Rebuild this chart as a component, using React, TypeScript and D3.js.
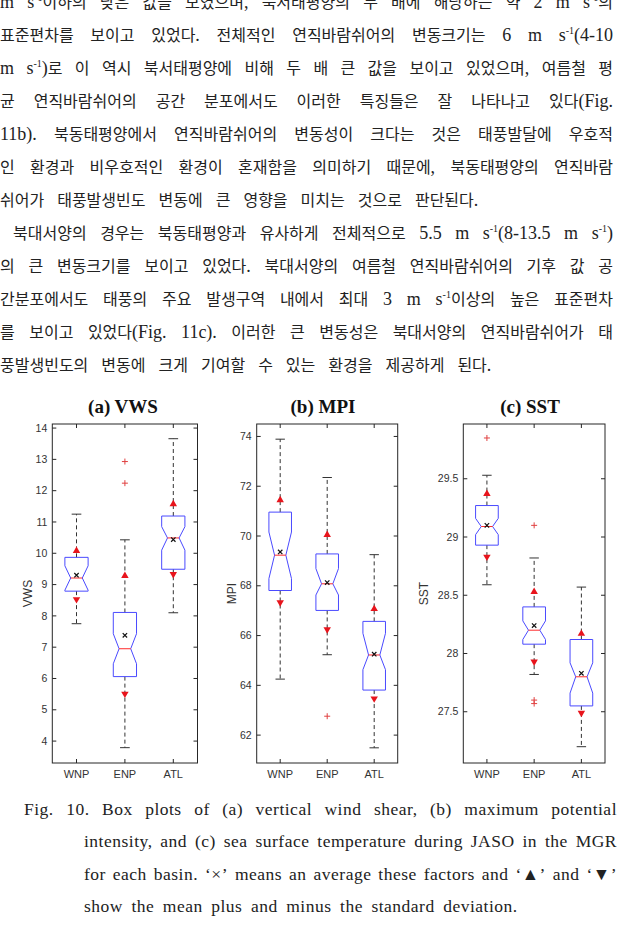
import { useLayoutEffect, useRef, useState } from "react";
import * as d3 from "d3";

const W = 622;
const H = 933;

const basins = ["WNP", "ENP", "ATL"];
const panelTitles = ["(a) VWS", "(b) MPI", "(c) SST"];
const yLabels = ["VWS", "MPI", "SST"];

// box stats: [lower whisker, q1, notch low, median, notch high, q3, upper whisker]
const vwsBoxes = [
  [7.75, 8.79, 8.82, 9.21, 9.6, 9.87, 11.25],
  [3.79, 6.06, 6.47, 6.95, 7.43, 8.11, 10.43],
  [8.1, 9.49, 10.1, 10.49, 10.85, 11.19, 13.66],
];
const vwsMean = [9.3, 7.38, 10.44];
const vwsPlusSd = [10.08, 9.28, 11.57];
const vwsMinusSd = [8.53, 5.51, 9.33];
const vwsOutliers = [[], [12.24, 12.93], []];
const vwsTicks = [4, 5, 6, 7, 8, 9, 10, 11, 12, 13, 14];
const vwsDomain = [3.3, 14.13];

const mpiBoxes = [
  [64.25, 67.81, 68.29, 69.23, 70.16, 70.96, 73.89],
  [65.23, 67.01, 67.63, 68.08, 68.69, 69.28, 72.35],
  [61.49, 63.81, 64.63, 65.22, 66.09, 66.57, 69.25],
];
const mpiMean = [69.36, 68.13, 65.25];
const mpiPlusSd = [71.44, 70.05, 67.07];
const mpiMinusSd = [67.33, 66.25, 63.47];
const mpiOutliers = [[], [62.76], []];
const mpiTicks = [62, 64, 66, 68, 70, 72, 74];
const mpiDomain = [60.88, 74.5];

const sstBoxes = [
  [28.59, 28.93, 29.02, 29.09, 29.16, 29.27, 29.53],
  [27.82, 28.08, 28.12, 28.2, 28.28, 28.4, 28.82],
  [27.2, 27.55, 27.66, 27.8, 27.92, 28.12, 28.57],
];
const sstMean = [29.1, 28.24, 27.83];
const sstPlusSd = [29.37, 28.53, 28.17];
const sstMinusSd = [28.83, 27.93, 27.49];
const sstOutliers = [[29.85], [29.1, 27.6, 27.57], []];
const sstTicks = [27.5, 28, 28.5, 29, 29.5];
const sstDomain = [27.06, 29.97];

// body text; {..} marks a superscript
const paragraph1 = [
  "m s{-1}이하의 낮은 값을 보였으며, 북서태평양의 두 배에 해당하는 약 2 m s{-1}의",
  "표준편차를 보이고 있었다. 전체적인 연직바람쉬어의 변동크기는 6 m s{-1}(4-10",
  "m s{-1})로 이 역시 북서태평양에 비해 두 배 큰 값을 보이고 있었으며, 여름철 평",
  "균 연직바람쉬어의 공간 분포에서도 이러한 특징들은 잘 나타나고 있다(Fig.",
  "11b). 북동태평양에서 연직바람쉬어의 변동성이 크다는 것은 태풍발달에 우호적",
  "인 환경과 비우호적인 환경이 혼재함을 의미하기 때문에, 북동태평양의 연직바람",
  "쉬어가 태풍발생빈도 변동에 큰 영향을 미치는 것으로 판단된다.",
];
const paragraph2 = [
  "북대서양의 경우는 북동태평양과 유사하게 전체적으로 5.5 m s{-1}(8-13.5 m s{-1})",
  "의 큰 변동크기를 보이고 있었다. 북대서양의 여름철 연직바람쉬어의 기후 값 공",
  "간분포에서도 태풍의 주요 발생구역 내에서 최대 3 m s{-1}이상의 높은 표준편차",
  "를 보이고 있었다(Fig. 11c). 이러한 큰 변동성은 북대서양의 연직바람쉬어가 태",
  "풍발생빈도의 변동에 크게 기여할 수 있는 환경을 제공하게 된다.",
];
const captionLines = [
  "Fig. 10. Box plots of (a) vertical wind shear, (b) maximum potential",
  "intensity, and (c) sea surface temperature during JASO in the MGR",
  "for each basin. ‘×’ means an average these factors and ‘▲’ and ‘▼’",
  "show the mean plus and minus the standard deviation.",
];

const BODY_FONT = "'Liberation Serif', 'Noto Sans CJK KR', serif";
const AX_FONT = "'Liberation Sans', Arial, sans-serif";

// split a word into hangul / latin / superscript runs
function runs(word: string) {
  const out: { s: string; kind: string }[] = [];
  word.split(/\{([^}]*)\}/).forEach((p, i) => {
    if (i % 2 === 1) out.push({ s: p, kind: "sup" });
    else
      p.split(/([\uAC00-\uD7A3]+)/).forEach((q, j) => {
        if (q) out.push({ s: q, kind: j % 2 === 1 ? "ko" : "lat" });
      });
  });
  return out;
}

function wordContent(word: string, koSize: number, latSize: number) {
  let raised = false;
  return runs(word).map((r, i) => {
    const sup = r.kind === "sup";
    const dy = sup && !raised ? -7 : !sup && raised ? 7 : 0;
    raised = sup;
    return (
      <tspan key={i} dy={dy} fontSize={sup ? 10 : r.kind === "ko" ? koSize : latSize}>
        {r.s}
      </tspan>
    );
  });
}

function TextLine({ x, y, text, width, gap, fontSize, latinSize, letterSpacing = 0 }) {
  const words = text.split(" ");
  const refs = useRef<(SVGTextElement | null)[]>([]);
  const [xs, setXs] = useState<number[] | null>(null);

  useLayoutEffect(() => {
    const measure = () => {
      const ws = words.map((_, i) => {
        const el = refs.current[i];
        return el ? el.getComputedTextLength() : 0;
      });
      const total = d3.sum(ws);
      const g = width != null && words.length > 1 ? (width - total) / (words.length - 1) : gap;
      let cur = x;
      setXs(
        ws.map((w) => {
          const p = cur;
          cur += w + g;
          return p;
        })
      );
    };
    measure();
    if (document.fonts) document.fonts.ready.then(measure);
  }, [text]);

  return (
    <g fontSize={fontSize} fontFamily={BODY_FONT} fill="#222" letterSpacing={letterSpacing}>
      {words.map((w, i) => (
        <text key={i} ref={(el) => (refs.current[i] = el)} x={xs ? xs[i] : x} y={y}>
          {wordContent(w, fontSize, latinSize)}
        </text>
      ))}
    </g>
  );
}

function BoxPanel({ i, boxes, mean, plus, minus, outliers, ticks, domain }) {
  const frames = [
    [52.3, 197.5],
    [256.7, 397.7],
    [463.3, 605],
  ];
  const titleX = [123, 323, 530];
  const labelX = [28, 232, 424];
  const top = 424;
  const bottom = 763;
  const [left, right] = frames[i];

  const x = d3.scalePoint<string>().domain(basins).range([left, right]).padding(0.5);
  const y = d3.scaleLinear().domain(domain).range([bottom, top]);
  const step = x.step();
  const hw = step * 0.24;
  const nw = hw * 0.5;
  const cw = step * 0.1;
  const tri = d3.symbol(d3.symbolTriangle, 24)();
  const line = d3.line();

  return (
    <g>
      <text
        x={titleX[i]}
        y={413}
        textAnchor="middle"
        fontFamily={BODY_FONT}
        fontWeight="bold"
        fontSize={19}
        fill="#111"
      >
        {panelTitles[i]}
      </text>
      <rect x={left} y={top} width={right - left} height={bottom - top} fill="#fff" stroke="#262626" strokeWidth={1} />
      {ticks.map((t) => (
        <g key={t} stroke="#262626">
          <line x1={left} x2={left + 4} y1={y(t)} y2={y(t)} />
          <line x1={right} x2={right - 4} y1={y(t)} y2={y(t)} />
        </g>
      ))}
      {basins.map((b) => (
        <g key={b} stroke="#262626">
          <line x1={x(b)} x2={x(b)} y1={bottom} y2={bottom - 4} />
          <line x1={x(b)} x2={x(b)} y1={top} y2={top + 4} />
        </g>
      ))}
      <g fontFamily={AX_FONT} fontSize={10.5} fill="#333" textAnchor="end">
        {ticks.map((t) => (
          <text key={t} x={left - 5} y={y(t)} dy="0.35em">
            {String(t)}
          </text>
        ))}
      </g>
      <g fontFamily={AX_FONT} fontSize={11} fill="#333" textAnchor="middle">
        {basins.map((b) => (
          <text key={b} x={x(b)} y={778}>
            {b}
          </text>
        ))}
      </g>
      <text
        transform={`translate(${labelX[i]},${(top + bottom) / 2}) rotate(-90)`}
        textAnchor="middle"
        dy="0.35em"
        fontFamily={AX_FONT}
        fontSize={12}
        fill="#333"
      >
        {yLabels[i]}
      </text>
      {basins.map((b, k) => {
        const [lo, q1, nLo, med, nHi, q3, hi] = boxes[k];
        const cx = x(b);
        const pts: [number, number][] = [
          [cx - hw, y(q3)],
          [cx + hw, y(q3)],
          [cx + hw, y(nHi)],
          [cx + nw, y(med)],
          [cx + hw, y(nLo)],
          [cx + hw, y(q1)],
          [cx - hw, y(q1)],
          [cx - hw, y(nLo)],
          [cx - nw, y(med)],
          [cx - hw, y(nHi)],
        ];
        const s = 2.2;
        return (
          <g key={b}>
            <g stroke="#333" strokeWidth={1}>
              <line x1={cx} x2={cx} y1={y(q3)} y2={y(hi)} strokeDasharray="4,3" />
              <line x1={cx} x2={cx} y1={y(q1)} y2={y(lo)} strokeDasharray="4,3" />
              <line x1={cx - cw} x2={cx + cw} y1={y(hi)} y2={y(hi)} />
              <line x1={cx - cw} x2={cx + cw} y1={y(lo)} y2={y(lo)} />
            </g>
            <path d={line(pts) + "Z"} fill="none" stroke="#4a4aff" strokeWidth={1} />
            <line x1={cx - nw} x2={cx + nw} y1={y(med)} y2={y(med)} stroke="#ff2a2a" strokeWidth={1} />
            <path d={tri} transform={`translate(${cx},${y(plus[k])})`} fill="#e8141c" />
            <path d={tri} transform={`translate(${cx},${y(minus[k])}) rotate(180)`} fill="#e8141c" />
            <path
              d={`M${-s},${-s}L${s},${s}M${-s},${s}L${s},${-s}`}
              transform={`translate(${cx},${y(mean[k])})`}
              stroke="#111"
              strokeWidth={1.2}
            />
            {outliers[k].map((o, j) => (
              <path
                key={j}
                d="M-3,0H3M0,-3V3"
                transform={`translate(${cx},${y(o)})`}
                stroke="#e04040"
                strokeWidth={1}
              />
            ))}
          </g>
        );
      })}
    </g>
  );
}

export default function App() {
  const bodyRight = 613;
  const lineH = 33;
  const body = [
    ...paragraph1.map((t, k) => ({ t, first: false, last: k === paragraph1.length - 1 })),
    ...paragraph2.map((t, k) => ({ t, first: k === 0, last: k === paragraph2.length - 1 })),
  ];
  const capRight = 617;
  const capBase = 815;
  const capH = 32.4;

  return (
    <svg width={W} height={H} style={{ position: "absolute", left: 0, top: 0, background: "#fff" }}>
      {body.map((l, k) => {
        const x0 = l.first ? 13 : 0;
        return (
          <TextLine
            key={k}
            x={x0}
            y={8 + k * lineH}
            text={l.t}
            width={l.last ? null : bodyRight - x0}
            gap={13}
            fontSize={16}
            latinSize={18}
          />
        );
      })}
      <BoxPanel
        i={0}
        boxes={vwsBoxes}
        mean={vwsMean}
        plus={vwsPlusSd}
        minus={vwsMinusSd}
        outliers={vwsOutliers}
        ticks={vwsTicks}
        domain={vwsDomain}
      />
      <BoxPanel
        i={1}
        boxes={mpiBoxes}
        mean={mpiMean}
        plus={mpiPlusSd}
        minus={mpiMinusSd}
        outliers={mpiOutliers}
        ticks={mpiTicks}
        domain={mpiDomain}
      />
      <BoxPanel
        i={2}
        boxes={sstBoxes}
        mean={sstMean}
        plus={sstPlusSd}
        minus={sstMinusSd}
        outliers={sstOutliers}
        ticks={sstTicks}
        domain={sstDomain}
      />
      {captionLines.map((t, k) => {
        const x0 = k === 0 ? 24 : 84;
        const last = k === captionLines.length - 1;
        return (
          <TextLine
            key={"c" + k}
            x={x0}
            y={capBase + k * capH}
            text={t}
            width={last ? null : capRight - x0}
            gap={8.5}
            fontSize={17.5}
            latinSize={17.5}
            letterSpacing={0.5}
          />
        );
      })}
    </svg>
  );
}
